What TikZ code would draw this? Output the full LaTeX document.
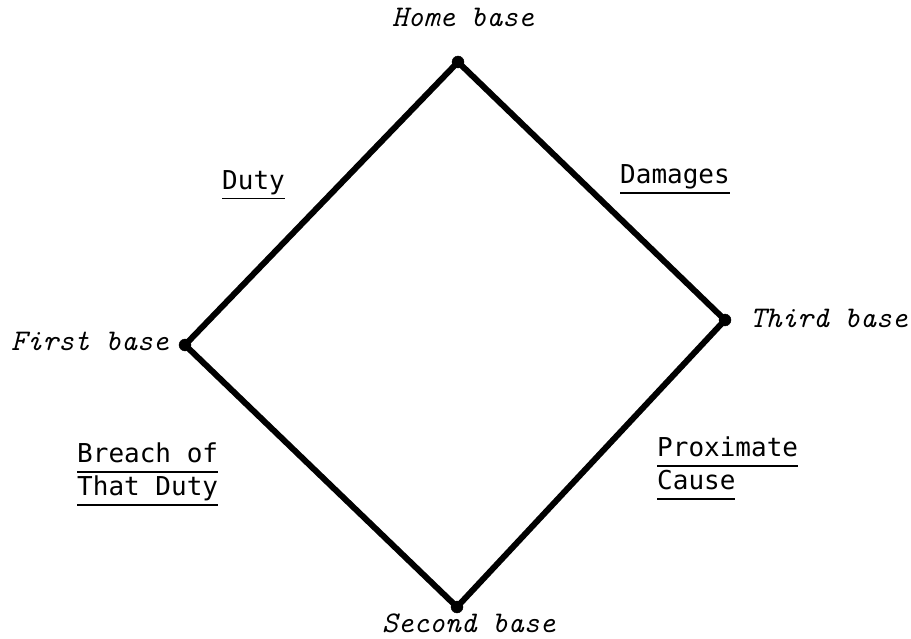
\documentclass[tikz,border=0pt]{standalone}
\usepackage{fontspec}
\newfontfamily\elementfont{DejaVu Sans Mono}
\newcommand*{\ulabel}[1]{\vtop{\hbox{#1\vphantom{y}}\kern 3pt\hrule height 1.8pt}}

\begin{document}
\begin{tikzpicture}
[
	base/.style={circle,draw,fill,inner sep=0pt,minimum size=12pt},
	basename/.style={font=\fontsize{30}{32}\selectfont\ttfamily\itshape,inner sep=0pt,anchor=base west},
	element/.style={font=\fontsize{26}{33}\selectfont\elementfont,inner sep=0pt,align=left,anchor=north west},
	x=1pt,
	y=-1pt
]
	\useasboundingbox (0,0) rectangle (911,639);

	% bases
	\node[base] (home)   at (458,62)  {};
	\node[base] (first)  at (185,345) {};
	\node[base] (second) at (457,607) {};
	\node[base] (third)  at (725,320) {};

	% base paths
	\draw[line width=6pt,line join=round]
	  (home.center) -- (third.center) -- (second.center) -- (first.center) -- cycle;

	% base names
	\node[basename] (homename)   at (392,27)  {Home base};
	\node[basename] (firstname)  at (11,351)  {First base};
	\node[basename] (thirdname)  at (750,327) {Third base};
	\node[basename] (secondname) at (382,632) {Second base};

	% elements
	\node[element] (duty)      at (222,170) {\ulabel{Duty}};
	\node[element] (damages)   at (620,164) {\ulabel{Damages}};
	\node[element] (breach)    at (77,443)  {\ulabel{Breach of}\\\ulabel{That Duty}};
	\node[element] (proximate) at (657,437) {\ulabel{Proximate}\\\ulabel{Cause}};

\end{tikzpicture}
\end{document}
